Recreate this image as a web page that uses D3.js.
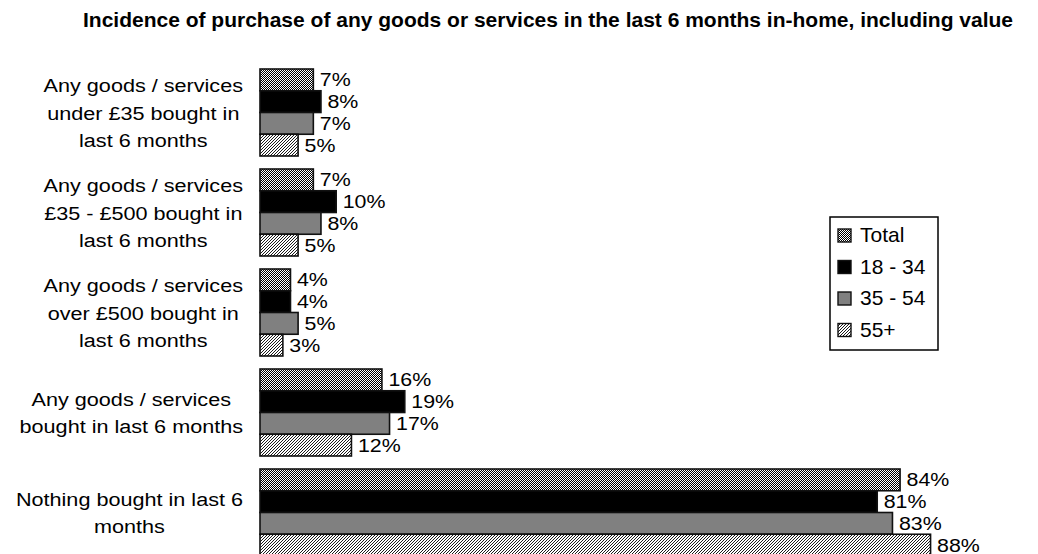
<!DOCTYPE html>
<html>
<head>
<meta charset="utf-8">
<script src="https://cdn.jsdelivr.net/npm/d3@7"></script>
<style>
  html, body { margin: 0; padding: 0; background: #fff; }
  svg { display: block; font-family: "Liberation Sans", Arial, sans-serif; }
</style>
</head>
<body>
<svg id="chart" width="1038" height="554"></svg>
<script>
// Purchase categories (top to bottom), each label split into lines
const categories = [
  "Any goods / services|under £35 bought in|last 6 months",
  "Any goods / services|£35 - £500 bought in|last 6 months",
  "Any goods / services|over £500 bought in|last 6 months",
  "Any goods / services|bought in last 6 months",
  "Nothing bought in last 6|months"
];
const seriesNames = ["Total", "18 - 34", "35 - 54", "55+"];
const totalValues = [7, 7, 4, 16, 84];
const age18to34 = [8, 10, 4, 19, 81];
const age35to54 = [7, 8, 5, 17, 83];
const age55plus = [5, 5, 3, 12, 88];
const seriesValues = [totalValues, age18to34, age35to54, age55plus];

const titleText = "Incidence of purchase of any goods or services in the last 6 months in-home, including value";

const svg = d3.select("#chart");
const defs = svg.append("defs");

// Horizontal stretch applied to chart text
const SX = 1.15;

// Text drawn inside a horizontally widened group
function wideText(parent, x, y, str, size, anchor) {
  const g = parent.append("g").attr("transform", `translate(${x},${y}) scale(${SX},1)`);
  return g.append("text").attr("font-size", size)
    .attr("text-anchor", anchor || "start").text(str);
}

// Fine checker fill
const chk = defs.append("pattern").attr("id", "pat-check")
  .attr("patternUnits", "userSpaceOnUse").attr("width", 2).attr("height", 2);
chk.append("rect").attr("width", 2).attr("height", 2).attr("fill", "#fff");
chk.append("rect").attr("x", 0).attr("y", 0).attr("width", 1).attr("height", 1).attr("fill", "#000");
chk.append("rect").attr("x", 1).attr("y", 1).attr("width", 1).attr("height", 1).attr("fill", "#000");

// Fine diagonal hatch fill
const hatch = defs.append("pattern").attr("id", "pat-diag")
  .attr("patternUnits", "userSpaceOnUse").attr("width", 3).attr("height", 3);
hatch.append("rect").attr("width", 3).attr("height", 3).attr("fill", "#fff");
hatch.append("path").attr("d", "M-1,1 L1,-1 M0,3 L3,0 M2,4 L4,2")
  .attr("stroke", "#000").attr("stroke-width", 0.9);

const fills = ["url(#pat-check)", "#000", "#808080", "url(#pat-diag)"];

// Scales
const x = d3.scaleLinear().domain([0, 100]).range([260, 1022]);
const y = d3.scaleBand().domain(d3.range(categories.length))
  .range([62.5, 562.5]).paddingInner(0.13).paddingOuter(0.065);
const ySub = d3.scaleBand().domain(d3.range(seriesNames.length))
  .range([0, y.bandwidth()]);

// Title
svg.append("text")
  .attr("x", 548).attr("y", 27)
  .attr("text-anchor", "middle")
  .attr("font-size", 21).attr("font-weight", "bold")
  .text(titleText);

// Bars and value labels
const groups = svg.append("g").selectAll("g")
  .data(categories).join("g")
  .attr("transform", (d, i) => `translate(0,${y(i)})`);

groups.each(function(cat, ci) {
  const g = d3.select(this);
  seriesValues.forEach((vals, si) => {
    const v = vals[ci];
    g.append("rect")
      .attr("x", x(0)).attr("y", ySub(si))
      .attr("width", x(v) - x(0)).attr("height", ySub.bandwidth())
      .attr("fill", fills[si])
      .attr("stroke", "#111").attr("stroke-width", 1.6);
    wideText(g, x(v) + 6.5, ySub(si) + ySub.bandwidth() / 2 + 6.5, v + "%", 18.6);
  });
});

// Category labels: lines centred on each other, block right-aligned to the bars
const labelRight = 243;
const lineH = 27.4;
categories.forEach((d, i) => {
  const lines = d.split("|");
  const cy = y(i) + y.bandwidth() / 2;
  const layer = svg.append("g");
  const texts = lines.map((ln, k) =>
    wideText(layer, 0, cy + (k - (lines.length - 1) / 2) * lineH + 7, ln, 18.8, "middle"));
  const maxW = d3.max(texts, t => t.node().getComputedTextLength() * SX);
  const cx = labelRight - maxW / 2;
  texts.forEach((t, k) => {
    d3.select(t.node().parentNode)
      .attr("transform", `translate(${cx},${cy + (k - (lines.length - 1) / 2) * lineH + 7}) scale(${SX},1)`);
  });
});

// Legend
const lg = svg.append("g").attr("transform", "translate(830,217)");
lg.append("rect").attr("width", 108).attr("height", 133)
  .attr("fill", "#fff").attr("stroke", "#000").attr("stroke-width", 1.5);
seriesNames.forEach((name, i) => {
  const base = 25 + i * 31.5;
  lg.append("rect").attr("x", 8).attr("y", base - 13).attr("width", 13).attr("height", 13)
    .attr("fill", fills[i]).attr("stroke", "#111").attr("stroke-width", 1.4);
  lg.append("text").attr("x", 30).attr("y", base)
    .attr("font-size", 21).text(name);
});
</script>
</body>
</html>
